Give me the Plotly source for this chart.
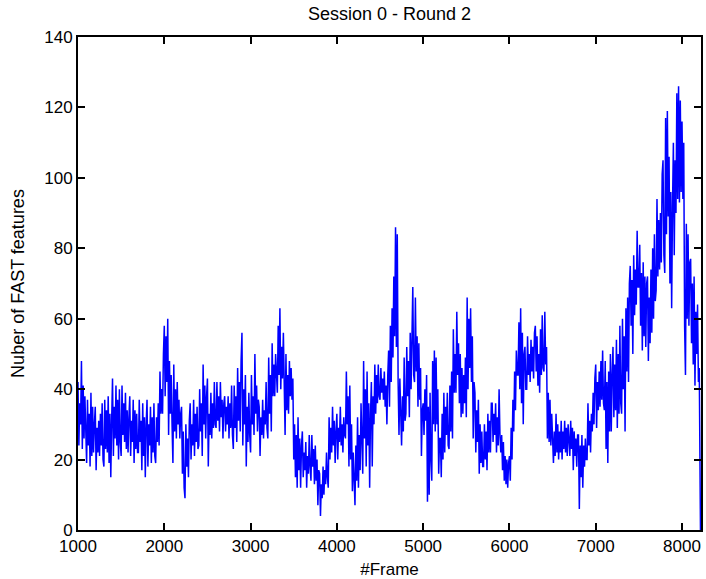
import plotly.graph_objects as go

# Frames are sampled every 10 frames starting at 1000; final point is the drop to 0
frame_start = 1000
frame_step = 10
last_frame = 8214
last_count = 0

# Number of FAST features, one row per 100 frames
counts = [
    42, 24, 36, 30, 48, 23, 41, 26, 38, 28,     # 1000
    19, 37, 24, 33, 18, 39, 21, 35, 22, 30,     # 1100
    35, 17, 29, 22, 31, 21, 33, 24, 36, 20,     # 1200
    18, 37, 23, 34, 22, 38, 19, 33, 15, 31,     # 1300
    43, 21, 35, 26, 41, 24, 37, 20, 40, 25,     # 1400
    21, 41, 27, 36, 25, 39, 23, 34, 22, 32,     # 1500
    38, 21, 31, 25, 37, 19, 34, 23, 33, 22,     # 1600
    22, 37, 25, 31, 17, 36, 21, 32, 15, 30,     # 1700
    37, 18, 30, 24, 35, 19, 32, 22, 36, 21,     # 1800
    19, 32, 25, 36, 24, 45, 33, 40, 33, 50,     # 1900
    58, 38, 55, 42, 60, 27, 48, 33, 44, 30,     # 2000
    19, 47, 28, 40, 26, 42, 30, 37, 26, 33,     # 2100
    35, 16, 28, 12, 9, 30, 18, 26, 15, 31,      # 2200
    36, 20, 30, 24, 37, 21, 33, 25, 35, 23,     # 2300
    24, 40, 28, 36, 21, 47, 30, 41, 26, 38,     # 2400
    43, 18, 33, 27, 39, 26, 36, 29, 42, 30,     # 2500
    29, 42, 31, 38, 28, 42, 32, 37, 26, 36,     # 2600
    38, 28, 35, 30, 38, 26, 36, 29, 41, 27,     # 2700
    23, 41, 29, 38, 25, 46, 31, 42, 28, 48,     # 2800
    56, 24, 40, 30, 44, 18, 35, 25, 39, 27,     # 2900
    22, 44, 30, 38, 27, 50, 33, 41, 28, 37,     # 3000
    35, 21, 32, 27, 37, 26, 34, 30, 42, 29,     # 3100
    26, 49, 33, 44, 28, 53, 38, 47, 38, 50,     # 3200
    45, 39, 58, 44, 63, 40, 52, 43, 56, 35,     # 3300
    27, 50, 34, 44, 33, 48, 38, 46, 37, 43,     # 3400
    20, 30, 15, 27, 12, 32, 17, 26, 12, 24,     # 3500
    28, 15, 22, 17, 25, 12, 21, 16, 27, 18,     # 3600
    14, 27, 18, 23, 13, 24, 14, 20, 7, 17,      # 3700
    16, 4, 13, 9, 18, 10, 17, 13, 22, 15,       # 3800
    12, 32, 20, 29, 22, 35, 24, 31, 19, 28,     # 3900
    33, 20, 29, 25, 35, 24, 30, 22, 32, 27,     # 4000
    26, 45, 30, 38, 18, 41, 20, 30, 11, 22,     # 4100
    16, 7, 24, 14, 32, 12, 27, 17, 36, 20,      # 4200
    16, 48, 26, 40, 18, 45, 24, 36, 12, 33,     # 4300
    42, 18, 38, 30, 47, 33, 44, 36, 47, 38,     # 4400
    37, 46, 39, 43, 37, 45, 35, 41, 30, 44,     # 4500
    51, 35, 58, 42, 63, 49, 72, 55, 86, 52,     # 4600
    84, 42, 27, 43, 33, 24, 38, 28, 49, 31,     # 4700
    33, 52, 38, 48, 32, 56, 40, 53, 69, 44,     # 4800
    42, 66, 45, 55, 35, 53, 37, 46, 21, 34,     # 4900
    36, 27, 40, 31, 44, 8, 35, 10, 39, 20,      # 5000
    14, 48, 30, 51, 28, 49, 30, 40, 16, 26,     # 5100
    26, 15, 33, 20, 39, 22, 35, 27, 39, 24,     # 5200
    23, 41, 28, 45, 26, 57, 39, 50, 39, 62,     # 5300
    44, 53, 36, 50, 32, 46, 33, 44, 36, 49,     # 5400
    32, 66, 40, 60, 46, 63, 42, 55, 26, 42,     # 5500
    39, 22, 34, 25, 37, 16, 30, 19, 28, 18,     # 5600
    18, 30, 20, 28, 17, 33, 22, 31, 22, 36,     # 5700
    36, 25, 33, 27, 36, 22, 32, 24, 40, 27,     # 5800
    22, 27, 17, 25, 14, 21, 13, 20, 12, 19,     # 5900
    21, 14, 29, 20, 37, 28, 45, 34, 51, 44,     # 6000
    44, 59, 40, 63, 36, 56, 30, 50, 52, 40,     # 6100
    40, 55, 44, 50, 42, 54, 45, 52, 43, 56,     # 6200
    58, 45, 55, 41, 50, 39, 57, 44, 61, 46,     # 6300
    45, 62, 47, 52, 26, 39, 25, 37, 24, 33,     # 6400
    24, 19, 28, 21, 33, 22, 30, 20, 28, 22,     # 6500
    31, 20, 28, 23, 31, 22, 29, 21, 30, 23,     # 6600
    21, 31, 23, 29, 17, 28, 21, 26, 18, 27,     # 6700
    27, 6, 24, 15, 27, 12, 24, 18, 26, 20,      # 6800
    20, 36, 24, 31, 22, 33, 28, 39, 30, 43,     # 6900
    47, 29, 42, 34, 45, 35, 48, 37, 51, 36,     # 7000
    34, 48, 23, 42, 19, 45, 28, 50, 28, 44,     # 7100
    52, 32, 47, 34, 54, 29, 50, 33, 58, 36,     # 7200
    33, 60, 40, 55, 28, 63, 45, 66, 42, 70,     # 7300
    75, 58, 71, 50, 78, 61, 74, 64, 85, 69,     # 7400
    69, 81, 58, 73, 51, 76, 55, 72, 52, 70,     # 7500
    72, 48, 66, 53, 74, 56, 80, 60, 84, 65,     # 7600
    68, 94, 72, 88, 74, 90, 76, 101, 105, 78,   # 7700
    73, 117, 84, 119, 89, 106, 70, 96, 63, 92,  # 7800
    110, 78, 105, 90, 124, 94, 126, 93, 122, 96,  # 7900
    116, 94, 110, 58, 44, 87, 60, 84, 58, 76,   # 8000
    77, 53, 70, 47, 72, 41, 62, 50, 64, 42,     # 8100
    46,                                         # 8200
]

x_ticks = [1000, 2000, 3000, 4000, 5000, 6000, 7000, 8000]
y_ticks = [0, 20, 40, 60, 80, 100, 120, 140]

frames = [frame_start + frame_step * i for i in range(len(counts))] + [last_frame]
values = counts + [last_count]

fig = go.Figure()
fig.add_trace(go.Scatter(
    x=frames, y=values, mode="lines",
    line=dict(color="#0000FF", width=1.5),
    showlegend=False, hoverinfo="skip",
))

font_family = "Liberation Sans, Arial, sans-serif"
axis_common = dict(
    showline=True, linecolor="black", linewidth=2, mirror="ticks",
    ticks="inside", ticklen=7, tickwidth=1.5, tickcolor="black",
    showgrid=False, zeroline=False,
    tickfont=dict(family=font_family, size=17, color="black"),
)

fig.update_layout(
    width=706, height=579,
    margin=dict(l=78, r=3, t=37, b=49),
    paper_bgcolor="white", plot_bgcolor="white",
    title=dict(text="Session 0 - Round 2", x=0.5, xref="paper",
               y=1 - 14 / 579, yref="container", yanchor="middle",
               font=dict(family=font_family, size=18, color="black")),
    xaxis=dict(range=[1000, 8220], tickvals=x_ticks,
               title=dict(text="#Frame", standoff=8,
                          font=dict(family=font_family, size=17, color="black")),
               **axis_common),
    yaxis=dict(range=[0, 140], tickvals=y_ticks,
               title=dict(text="Nuber of FAST features", standoff=15,
                          font=dict(family=font_family, size=18, color="black")),
               **axis_common),
)

fig.write_html("out.html")
